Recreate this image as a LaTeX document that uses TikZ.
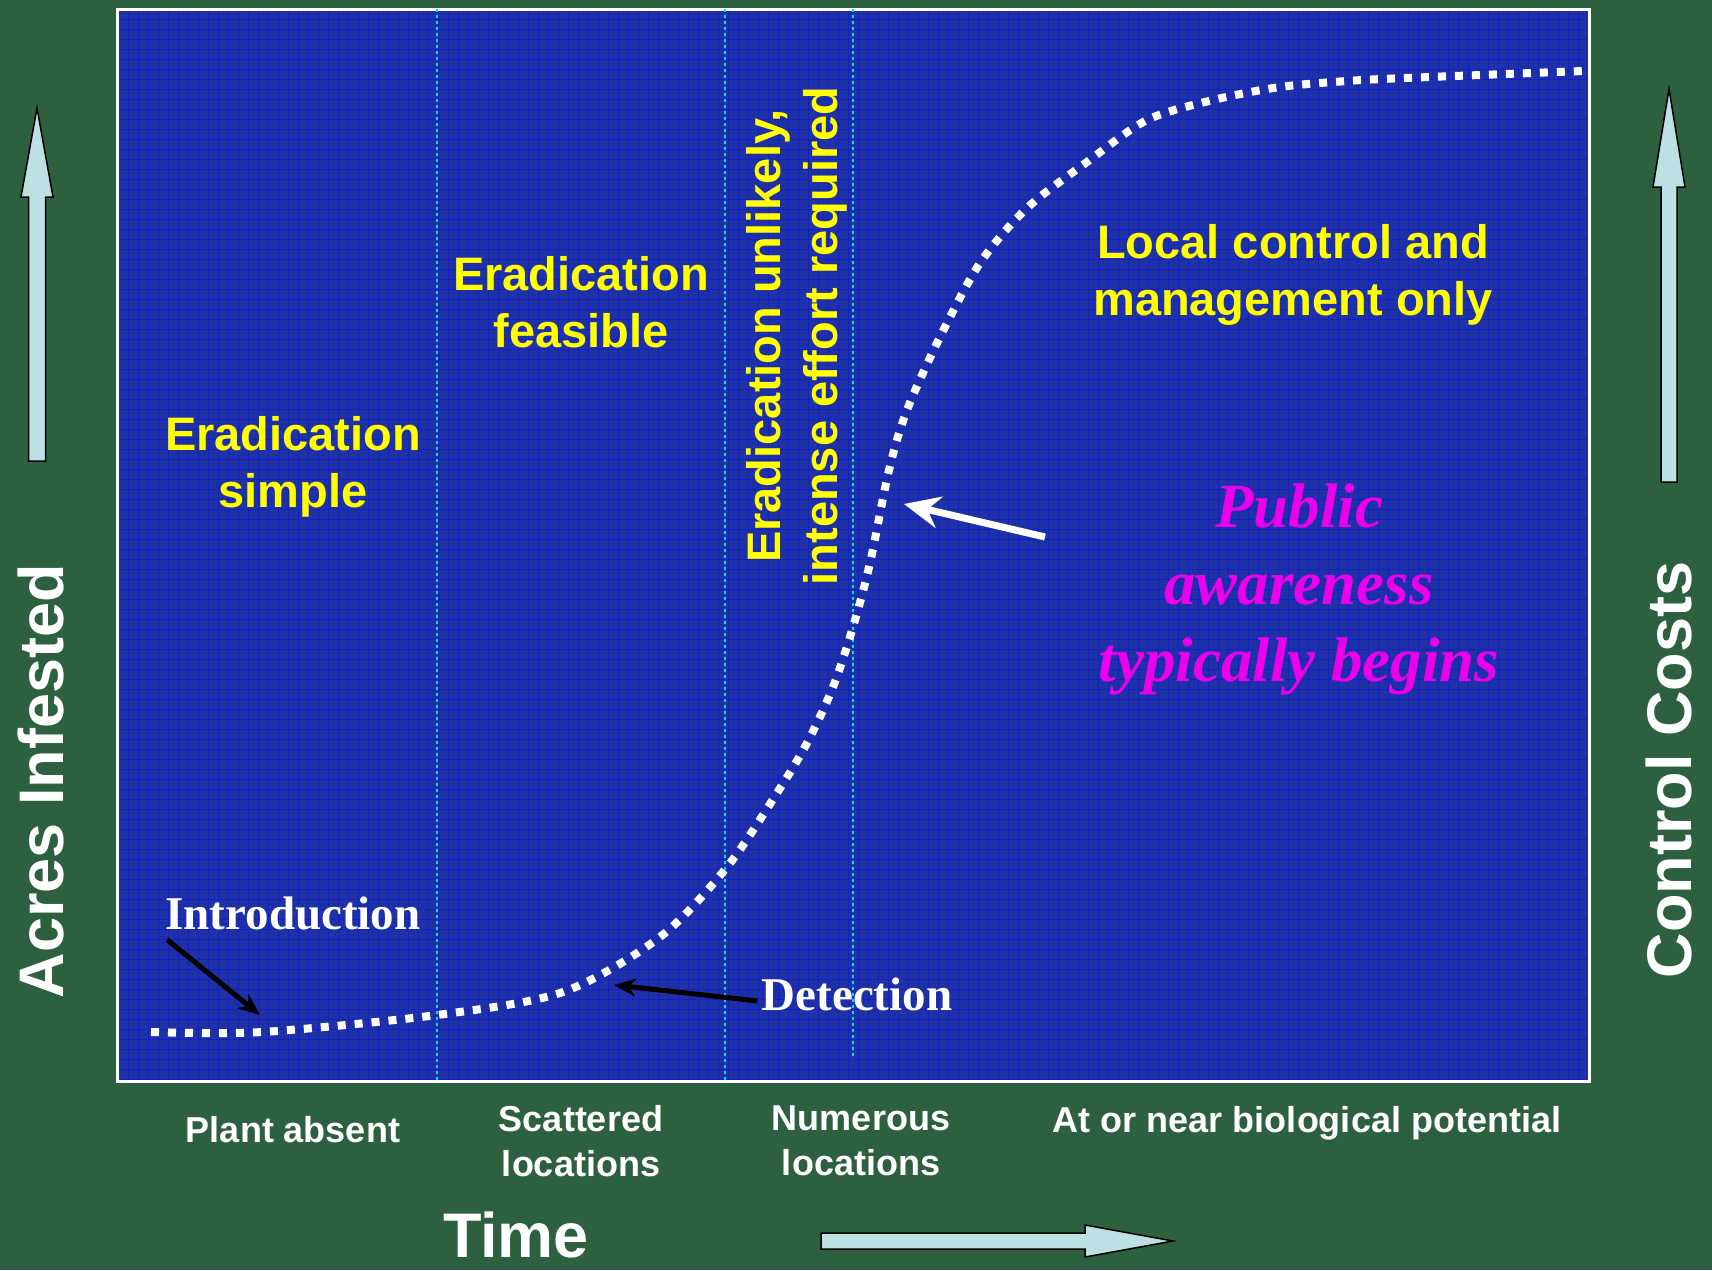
\documentclass[tikz,border=0pt]{standalone}
\usepackage{fontspec}
\setmainfont{Liberation Sans}
\newfontfamily\timesfont{Liberation Serif}
\usetikzlibrary{arrows.meta}

\definecolor{bggreen}{RGB}{44,96,62}
\definecolor{panelblue}{RGB}{30,50,165}
\definecolor{gridblue}{RGB}{10,10,245}
\definecolor{stagecyan}{RGB}{0,225,245}
\definecolor{zoneyellow}{RGB}{255,255,0}
\definecolor{publicpink}{RGB}{235,0,235}
\definecolor{shaftblue}{RGB}{188,224,228}

\begin{document}
\begin{tikzpicture}[x=1pt, y=-1pt,
    zone/.style={text=zoneyellow, font=\fontsize{47}{57}\selectfont\bfseries, align=center, inner sep=0pt},
    stage/.style={text=white, font=\fontsize{36}{45}\selectfont\bfseries, align=center, inner sep=0pt},
    axis/.style={text=white, font=\fontsize{63}{70}\selectfont\bfseries, inner sep=0pt},
    event/.style={text=white, font=\timesfont\fontsize{47}{55}\selectfont\bfseries, inner sep=0pt},
    stageline/.style={stagecyan, line width=2.5pt, dash pattern=on 2.5pt off 3.5pt},
    blockarrow/.style={fill=shaftblue, draw=black, line width=1.5pt, line join=miter},
    pointer/.style={line width=5pt, -{Stealth[length=22pt,width=18pt]}}]
    \useasboundingbox (0,0) rectangle (1712,1270);
    % background and chart panel
    \fill[bggreen] (0,0) rectangle (1712,1270);
    \fill[panelblue] (117,9) rectangle (1589,1081);
    \foreach \gx in {128,138,...,1588}
        \draw[gridblue, opacity=0.45, line width=0.8pt] (\gx,9) -- (\gx,1081);
    \foreach \gy in {19,29,...,1079}
        \draw[gridblue, opacity=0.45, line width=0.8pt] (117,\gy) -- (1589,\gy);
    \draw[white, line width=3pt] (117,9) rectangle (1589,1081);

    % stage boundaries
    \draw[stageline] (437,9) -- (437,1081);
    \draw[stageline] (725,9) -- (725,1081);
    \draw[stageline] (853,9) -- (853,1059);

    % infestation curve
    \draw[white, line width=8pt, dash pattern=on 8pt off 9pt]
        plot[smooth, tension=0.5] coordinates {(151,1032) (262,1032) (437,1015)
        (563,992) (660,937) (727,867) (777,793) (807,743) (833,687) (853,627)
        (870,563) (889,470) (907,410) (940,337) (980,263) (1027,208) (1087,162)
        (1147,120) (1213,100) (1280,87) (1347,81) (1405,78) (1583,71)};

    % zone texts
    \node[zone] (simple) at (293,467) {Eradication\\simple};
    \node[zone] (feasible) at (581,302) {Eradication\\feasible};
    \node[zone, rotate=90] (unlikely) at (797,336) {Eradication unlikely,\\intense effort required};
    \node[zone] (local) at (1293,275) {Local control and\\management only};
    \node[text=publicpink, font=\timesfont\fontsize{63}{77}\selectfont\bfseries\itshape,
        align=center, inner sep=0pt] (public) at (1299,589) {Public\\awareness\\typically begins};

    \node[event, anchor=base] (intro) at (293,929) {Introduction};
    \node[event, anchor=base] (detect) at (857,1010) {Detection};

    % stage labels
    \node[stage, anchor=base] (absent) at (293,1142) {Plant absent};
    \node[stage] (scattered) at (581,1141) {Scattered\\locations};
    \node[stage] (numerous) at (861,1141) {Numerous\\locations};
    \node[stage, anchor=base] (potential) at (1307,1132) {At or near biological potential};

    % axes
    \node[axis, rotate=90] (acres) at (41,781) {Acres Infested};
    \node[axis, rotate=90] (costs) at (1669,770) {Control Costs};
    \node[axis, anchor=base] (time) at (516,1257) {Time};

    \draw[blockarrow] (28.5,461) -- (28.5,197) -- (21,197) -- (37,108) -- (53,197)
        -- (45.5,197) -- (45.5,461) -- cycle;
    \draw[blockarrow] (1661,482) -- (1661,187) -- (1653,187) -- (1669,89) -- (1685,187)
        -- (1677,187) -- (1677,482) -- cycle;
    \draw[blockarrow] (821,1233) -- (1085,1233) -- (1085,1225) -- (1173,1241) -- (1085,1257)
        -- (1085,1249) -- (821,1249) -- cycle;

    % pointers to the curve
    \coordinate (introTip) at (260,1015);
    \coordinate (detectTip) at (614,985);
    \coordinate (publicTail) at (1045,537);
    \coordinate (publicTip) at (904,504);
    \draw[pointer] ([shift={(2,10)}]intro.south west) -- (introTip);
    \draw[pointer] ([shift={(-4,7)}]detect.west) -- (detectTip);
    \draw[white, line width=7pt, -{Stealth[length=36pt,width=32pt,inset=12pt]}]
        (publicTail) -- (publicTip);
\end{tikzpicture}
\end{document}
